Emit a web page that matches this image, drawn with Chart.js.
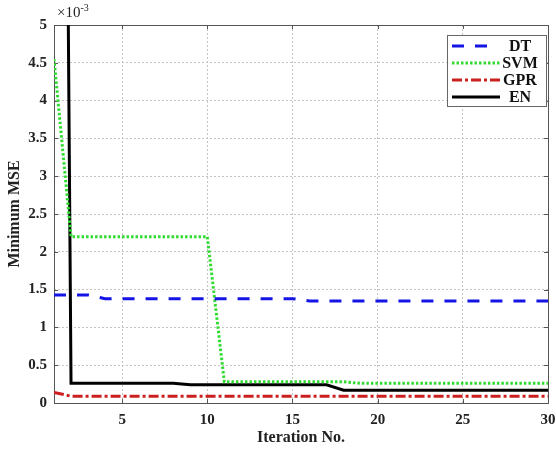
<!DOCTYPE html>
<html>
<head>
<meta charset="utf-8">
<script src="https://cdn.jsdelivr.net/npm/chart.js@4/dist/chart.umd.min.js"></script>
<style>
html,body{margin:0;padding:0;background:#fff;}
#wrap{width:556px;height:449px;}
</style>
</head>
<body>
<div id="wrap"><canvas id="c" width="556" height="449"></canvas></div>
<script>
// values, in units of 1e-3
const iterations = [1,2,3,4,5,6,7,8,9,10,11,12,13,14,15,16,17,18,19,20,21,22,23,24,25,26,27,28,29,30];
const dtMSE  = [1.43,1.43,1.43,1.38,1.38,1.38,1.38,1.38,1.38,1.38,1.38,1.38,1.38,1.38,1.38,1.35,1.35,1.35,1.35,1.35,1.35,1.35,1.35,1.35,1.35,1.35,1.35,1.35,1.35,1.35];
const svmMSE = [4.55,2.2,2.2,2.2,2.2,2.2,2.2,2.2,2.2,2.2,0.28,0.28,0.28,0.28,0.28,0.28,0.28,0.28,0.26,0.26,0.26,0.26,0.26,0.26,0.26,0.26,0.26,0.26,0.26,0.26];
const gprMSE = [0.14,0.09,0.09,0.09,0.09,0.09,0.09,0.09,0.09,0.09,0.09,0.09,0.09,0.09,0.09,0.09,0.09,0.09,0.09,0.09,0.09,0.09,0.09,0.09,0.09,0.09,0.09,0.09,0.09,0.09];
const enMSE  = [30,0.26,0.26,0.26,0.26,0.26,0.26,0.26,0.24,0.24,0.24,0.24,0.24,0.24,0.24,0.24,0.24,0.17,0.17,0.17,0.17,0.17,0.17,0.17,0.17,0.17,0.17,0.17,0.17,0.17];
const seriesNames = ['DT','SVM','GPR','EN'];
const xTicks = [5,10,15,20,25,30];
const yTicks = [0,0.5,1,1.5,2,2.5,3,3.5,4,4.5,5];

const serif = "'Liberation Serif','Times New Roman',serif";
const pts = arr => iterations.map((it,i)=>({x:it,y:arr[i]}));

function mkSet(name, arr, color, dash){
return { label:name, data:pts(arr), borderColor:color, backgroundColor:color, borderWidth:3,
borderDash:dash, pointRadius:0, tension:0, fill:false };
}

// box round the plot with inward tick marks on all four sides
const boxPlugin = {
id:'box',
beforeDatasetsDraw(chart){
const {ctx, chartArea:a, scales} = chart;
ctx.save();
ctx.strokeStyle = '#555'; ctx.lineWidth = 1; ctx.setLineDash([]);
ctx.strokeRect(a.left+0.5, a.top+0.5, a.right-a.left, a.bottom-a.top);
ctx.beginPath();
xTicks.forEach(v=>{
const px = Math.round(scales.x.getPixelForValue(v))+0.5;
ctx.moveTo(px,a.bottom); ctx.lineTo(px,a.bottom-4);
ctx.moveTo(px,a.top); ctx.lineTo(px,a.top+4);
});
yTicks.forEach(v=>{
const py = Math.round(scales.y.getPixelForValue(v))+0.5;
ctx.moveTo(a.left,py); ctx.lineTo(a.left+4,py);
ctx.moveTo(a.right,py); ctx.lineTo(a.right-4,py);
});
ctx.stroke();
// exponent label
ctx.fillStyle = '#222'; ctx.textBaseline = 'alphabetic'; ctx.textAlign = 'left';
ctx.font = '15px ' + serif;
ctx.fillText('\u00d710', a.left+3, a.top-8);
const w = ctx.measureText('\u00d710').width;
ctx.font = '10px ' + serif;
ctx.fillText('-3', a.left+3+w, a.top-14);
ctx.restore();
}
};

const legendPlugin = {
id:'boxLegend',
afterDraw(chart){
const {ctx} = chart;
const x0 = 447, y0 = 35, w = 99, h = 71;
ctx.save();
ctx.fillStyle = '#fff'; ctx.fillRect(x0,y0,w,h);
ctx.strokeStyle = '#666'; ctx.lineWidth = 1; ctx.setLineDash([]);
ctx.strokeRect(x0+0.5,y0+0.5,w,h);
chart.data.datasets.forEach((ds,i)=>{
const y = y0 + 11 + i*17;
ctx.beginPath();
ctx.strokeStyle = ds.borderColor; ctx.lineWidth = 3;
ctx.setLineDash(ds.borderDash || []);
ctx.moveTo(452,y); ctx.lineTo(i===0?490:500,y); ctx.stroke();
ctx.setLineDash([]);
ctx.fillStyle = '#111'; ctx.font = 'bold 16px ' + serif;
ctx.textAlign = 'center'; ctx.textBaseline = 'middle';
ctx.fillText(ds.label, 520, y+1);
});
ctx.restore();
}
};

new Chart(document.getElementById('c').getContext('2d'), {
type:'line',
data:{ datasets:[
mkSet(seriesNames[0], dtMSE, '#1414e6', [12,11]),
mkSet(seriesNames[1], svmMSE, '#2fdc2f', [2.5,2]),
mkSet(seriesNames[2], gprMSE, '#cc1f1f', [10,3,3,3]),
mkSet(seriesNames[3], enMSE, '#000000', [])
]},
options:{
responsive:false, animation:false,
layout:{ padding:{ top:25, right:8, left:0, bottom:0 } },
plugins:{ legend:{display:false}, tooltip:{enabled:false} },
scales:{
x:{ type:'linear', min:1, max:30,
afterBuildTicks: s => { s.ticks = xTicks.map(v=>({value:v})); },
afterFit: s => { s.height = 46; s.paddingLeft = 0; s.paddingRight = 0; },
grid:{ color:'#c4c4c4', drawTicks:false },
border:{ display:false, dash:[2,2] },
ticks:{ padding:8, color:'#222', font:{ family:serif, size:15, weight:'bold' } },
title:{ display:true, text:'Iteration No.', color:'#222', padding:{bottom:2},
font:{ family:serif, size:16, weight:'bold' } }
},
y:{ min:0, max:5,
afterBuildTicks: s => { s.ticks = yTicks.map(v=>({value:v})); },
afterFit: s => { s.width = 54; s.paddingTop = 0; s.paddingBottom = 0; },
grid:{ color:'#c4c4c4', drawTicks:false },
border:{ display:false, dash:[2,2] },
ticks:{ padding:7, color:'#222', font:{ family:serif, size:15, weight:'bold' },
callback: v => String(v) },
title:{ display:true, text:'Minimum MSE', color:'#222', padding:{top:5},
font:{ family:serif, size:16, weight:'bold' } }
}
}
},
plugins:[boxPlugin, legendPlugin]
});
</script>
</body>
</html>
